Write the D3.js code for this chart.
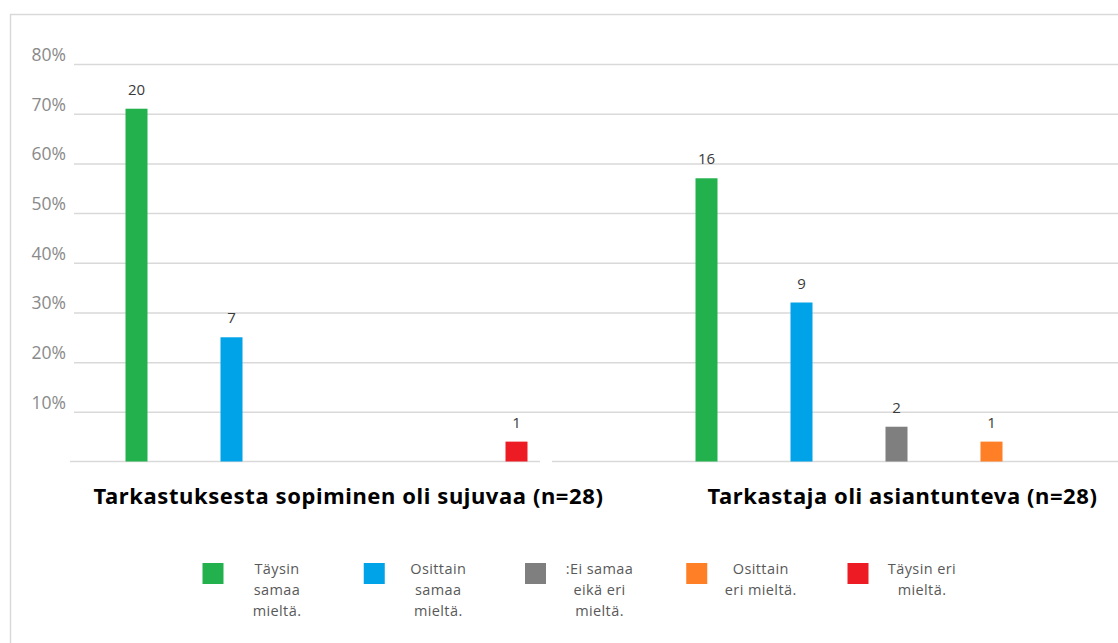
<!DOCTYPE html>
<html>
<head>
<meta charset="utf-8">
<script src="https://cdn.jsdelivr.net/npm/d3@7"></script>
<style>
  body { margin: 0; background: #fff; }
  svg { display: block; }
</style>
</head>
<body>
<div id="chart"></div>
<script>
// Data (n = 28 per question)
const groups = ['Tarkastuksesta sopiminen oli sujuvaa (n=28)', 'Tarkastaja oli asiantunteva (n=28)']
const categories = ['Täysin samaa mieltä.', 'Osittain samaa mieltä.', 'Ei samaa eikä eri mieltä.', 'Osittain eri mieltä.', 'Täysin eri mieltä.']
const pctSujuvaa = [71, 25, 0, 0, 4]
const pctAsiantunteva = [57, 32, 7, 4, 0]
const countSujuvaa = [20, 7, 0, 0, 1]
const countAsiantunteva = [16, 9, 2, 1, 0]
const colors = ['#22b14c', '#00a2e8', '#7f7f7f', '#ff7f27', '#ed1c24']
const yTicks = [10, 20, 30, 40, 50, 60, 70, 80]
const legendLines = [
    ['Täysin', 'samaa', 'mieltä.'],
    ['Osittain', 'samaa', 'mieltä.'],
    [':Ei samaa', 'eikä eri', 'mieltä.'],
    ['Osittain', 'eri mieltä.'],
    ['Täysin eri', 'mieltä.']
]

const width = 1118
const height = 643

// build rows for drawing
let rows = []
let pcts = [pctSujuvaa, pctAsiantunteva]
let counts = [countSujuvaa, countAsiantunteva]
groups.forEach((g, gi) => {
    categories.forEach((c, ci) => {
        rows.push({group: g, category: c, pct: pcts[gi][ci], count: counts[gi][ci], color: colors[ci]})
    })
})

let svg = d3.select('#chart').append('svg')
    .attr('width', width)
    .attr('height', height)

// outer frame
svg.append('rect')
    .attr('x', 10.5)
    .attr('y', 14.5)
    .attr('width', width + 20)
    .attr('height', height + 20)
    .attr('fill', 'none')
    .attr('stroke', '#d9d9d9')
    .attr('stroke-width', 1.5)

// Scales
let x0 = d3.scaleBand()
    .domain(groups)
    .range([89, 1134])
    .paddingInner(1 / 6)

let x1 = d3.scaleBand()
    .domain(categories)
    .range([0, x0.bandwidth()])

let y = d3.scaleLinear()
    .domain([0, 80])
    .range([461.5, 64])

let barWidth = 22

// Gridlines + y labels
let yAxis = d3.axisLeft(y)
    .tickValues(yTicks)
    .tickSize(-(width - 74))
    .tickFormat(d => d + '%')

svg.append('g')
    .attr('transform', 'translate(74,0)')
    .call(yAxis)
    .call(g => g.select('.domain').remove())
    .call(g => g.selectAll('line').attr('stroke', '#d9d9d9').attr('stroke-width', 1.5))
    .call(g => g.selectAll('text')
        .attr('x', -8)
        .attr('dy', '-0.2em')
        .attr('fill', '#8a8a8a')
        .style('font-family', '"Open Sans", sans-serif')
        .style('font-size', '17.5px'))

// Baseline, broken between the two panels
let baseSegments = [[70, 540], [552, width]]
svg.selectAll('.baseline')
    .data(baseSegments)
    .join('line')
    .attr('class', 'baseline')
    .attr('x1', d => d[0])
    .attr('x2', d => d[1])
    .attr('y1', y(0))
    .attr('y2', y(0))
    .attr('stroke', '#d9d9d9')
    .attr('stroke-width', 1.5)

// Bars
let barX = d => x0(d.group) + x1(d.category) + x1.bandwidth() / 2 - barWidth / 2
let shown = rows.filter(d => d.pct > 0)

svg.selectAll('.bar')
    .data(shown)
    .join('rect')
    .attr('class', 'bar')
    .attr('x', barX)
    .attr('y', d => y(d.pct))
    .attr('width', barWidth)
    .attr('height', d => y(0) - y(d.pct))
    .attr('fill', d => d.color)

// count labels
svg.selectAll('.val')
    .data(shown)
    .join('text')
    .attr('class', 'val')
    .attr('x', d => barX(d) + barWidth / 2)
    .attr('y', d => y(d.pct) - 14)
    .attr('text-anchor', 'middle')
    .attr('fill', '#3a3a3a')
    .style('font-family', '"Open Sans", sans-serif')
    .style('font-size', '15px')
    .text(d => d.count)

// Group titles
let titleShift = [22, 6]
svg.selectAll('.title')
    .data(groups)
    .join('text')
    .attr('class', 'title')
    .attr('x', (d, i) => x0(d) + x0.bandwidth() / 2 + titleShift[i])
    .attr('y', 504)
    .attr('text-anchor', 'middle')
    .attr('fill', '#000')
    .style('font-family', '"Noto Sans", sans-serif')
    .style('font-weight', 'bold')
    .style('font-size', '22px')
    .style('letter-spacing', '0.6px')
    .text(d => d)

// Legend
let lx = d3.scalePoint()
    .domain(categories)
    .range([213, 858])

let sq = 21
let legend = svg.selectAll('.legend')
    .data(categories)
    .join('g')
    .attr('class', 'legend')
    .attr('transform', d => `translate(${lx(d)},563)`)

legend.append('rect')
    .attr('x', -sq / 2)
    .attr('y', 0)
    .attr('width', sq)
    .attr('height', sq)
    .attr('fill', (d, i) => colors[i])

legend.append('text')
    .attr('x', 64)
    .attr('y', 11)
    .attr('text-anchor', 'middle')
    .attr('fill', '#595959')
    .style('font-family', '"Open Sans", sans-serif')
    .style('font-size', '14.5px')
    .style('letter-spacing', '0.4px')
    .selectAll('tspan')
    .data((d, i) => legendLines[i])
    .join('tspan')
    .attr('x', 64)
    .attr('dy', (d, i) => i == 0 ? 0 : 21)
    .text(d => d)
</script>
</body>
</html>
